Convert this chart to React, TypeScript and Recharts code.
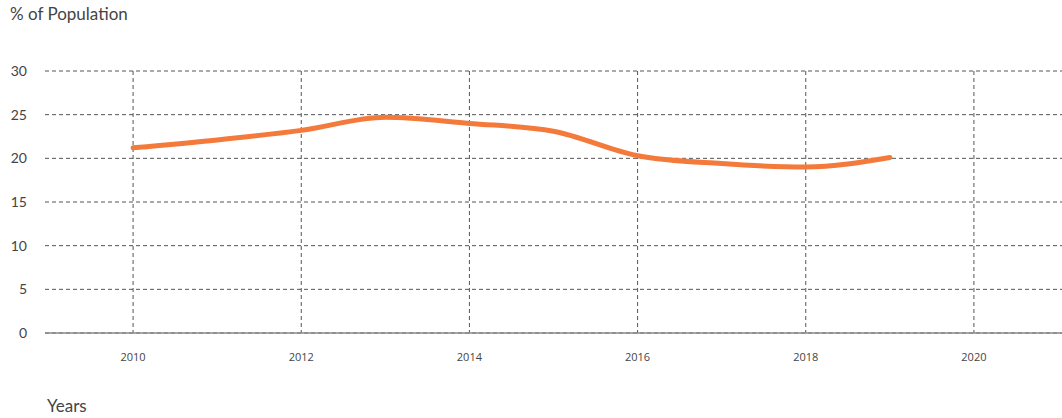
import { LineChart, Line, XAxis, YAxis, CartesianGrid } from "recharts"

// Share of population, by year
const years = [2010, 2011, 2012, 2013, 2014, 2015, 2016, 2017, 2018, 2019]
const share = [21.2, 22.1, 23.2, 24.7, 24.0, 23.1, 20.3, 19.4, 19.0, 20.1]

const xTicks = [2010, 2012, 2014, 2016, 2018, 2020]
const yTicks = [0, 5, 10, 15, 20, 25, 30]

const data = years.map((year, i) => ({ year, share: share[i] }))

const FONT = "Lato, 'Open Sans', sans-serif"
const X_MIN = 2009
const X_MAX = 2021
const PAD = 4

export default function App() {
  return (
    <div style={{ position: "absolute", left: 0, top: 0, width: 1062, height: 418, fontFamily: FONT }}>
      <div style={{ position: "absolute", left: 10, top: 3, fontSize: 17, color: "#444" }}>
        % of Population
      </div>
      <div style={{ position: "absolute", left: 47, top: 395, fontSize: 17, color: "#444" }}>
        Years
      </div>
      <LineChart
        width={1062}
        height={418}
        data={data}
        margin={{ top: 71, right: 0, bottom: 0, left: 0 }}
      >
        <CartesianGrid
          stroke="#555"
          strokeDasharray="4 3"
          verticalCoordinatesGenerator={({ offset }: any) =>
            xTicks.map(
              (t) =>
                offset.left + PAD + ((t - X_MIN) / (X_MAX - X_MIN)) * (offset.width - 2 * PAD)
            )
          }
        />
        <XAxis
          dataKey="year"
          type="number"
          domain={[X_MIN, X_MAX]}
          ticks={xTicks}
          padding={{ left: PAD, right: PAD }}
          height={85}
          tickSize={0}
          tickMargin={20}
          axisLine={{ stroke: "#888", strokeWidth: 1.5 }}
          tick={{ fontSize: 11, fill: "#444", fontFamily: "'Open Sans', sans-serif" }}
        />
        <YAxis
          domain={[0, 30]}
          ticks={yTicks}
          width={45}
          tickSize={0}
          tickMargin={18}
          axisLine={false}
          tick={{ fontSize: 14, fill: "#444", fontFamily: FONT }}
        />
        <Line
          type="monotone"
          dataKey="share"
          stroke="#F47A3C"
          strokeWidth={5}
          strokeLinecap="round"
          dot={false}
          activeDot={false}
          isAnimationActive={false}
        />
      </LineChart>
    </div>
  )
}
